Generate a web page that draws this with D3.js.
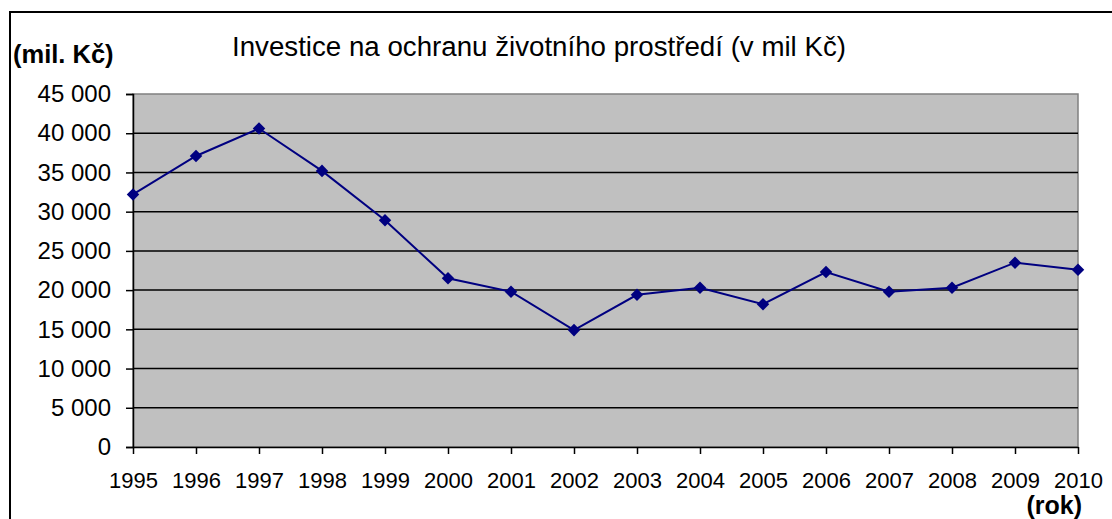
<!DOCTYPE html>
<html>
<head>
<meta charset="utf-8">
<script src="https://cdn.jsdelivr.net/npm/d3@7"></script>
<style>
  body { margin: 0; background: #fff; }
  svg text { font-family: "Liberation Sans", Arial, sans-serif; }
</style>
</head>
<body>
<div id="chart"></div>
<script>
const width = 1112;
const height = 519;

// data
const years = [1995, 1996, 1997, 1998, 1999, 2000, 2001, 2002, 2003, 2004, 2005, 2006, 2007, 2008, 2009, 2010];
const investice = [32200, 37100, 40600, 35200, 28900, 21500, 19800, 14900, 19400, 20300, 18200, 22300, 19800, 20300, 23500, 22600];
const yTicks = [0, 5000, 10000, 15000, 20000, 25000, 30000, 35000, 40000, 45000];

const title = "Investice na ochranu životního prostředí (v mil Kč)";
const yLabel = "(mil. Kč)";
const xLabel = "(rok)";

const margin = {top: 94, right: 34, bottom: 72, left: 133};

const svg = d3.select("#chart")
    .append("svg")
    .attr("width", width)
    .attr("height", height);

// outer chart frame
svg.append("rect")
    .attr("x", 10)
    .attr("y", 12)
    .attr("width", width + 20)
    .attr("height", height + 20)
    .attr("fill", "none")
    .attr("stroke", "#000")
    .attr("stroke-width", 2);

const x = d3.scalePoint()
    .domain(years)
    .range([margin.left, width - margin.right]);

const y = d3.scaleLinear()
    .domain([0, 45000])
    .range([height - margin.bottom, margin.top]);

// plot area
svg.append("rect")
    .attr("x", margin.left)
    .attr("y", margin.top)
    .attr("width", width - margin.right - margin.left)
    .attr("height", height - margin.bottom - margin.top)
    .attr("fill", "#c0c0c0")
    .attr("stroke", "#808080")
    .attr("stroke-width", 1.5);

// gridlines
svg.append("g")
    .selectAll("line")
    .data(yTicks.filter(d => d > 0 && d < 45000))
    .join("line")
    .attr("x1", margin.left)
    .attr("x2", width - margin.right)
    .attr("y1", d => y(d))
    .attr("y2", d => y(d))
    .attr("stroke", "#000")
    .attr("stroke-width", 1.5);

const fmt = d => d3.format(",")(d).replace(/,/g, " ");

// y axis
const yAxis = svg.append("g")
    .attr("transform", `translate(${margin.left},0)`)
    .call(d3.axisLeft(y).tickValues(yTicks).tickFormat(fmt).tickSize(7).tickPadding(15));
yAxis.select(".domain").attr("stroke-width", 1.5);
yAxis.selectAll(".tick line").attr("stroke-width", 1.5);
yAxis.selectAll("text")
    .attr("font-size", 24)
    .attr("fill", "#000");

// x axis
const xAxis = svg.append("g")
    .attr("transform", `translate(0,${height - margin.bottom})`)
    .call(d3.axisBottom(x).tickSize(7).tickPadding(18).tickSizeOuter(0));
xAxis.select(".domain").attr("stroke-width", 1.5);
xAxis.selectAll(".tick line").attr("stroke-width", 1.5);
xAxis.selectAll("text")
    .attr("font-size", 22)
    .attr("fill", "#000");

// line
const line = d3.line()
    .x((d, i) => x(years[i]))
    .y(d => y(d));

svg.append("path")
    .datum(investice)
    .attr("d", line)
    .attr("fill", "none")
    .attr("stroke", "#000080")
    .attr("stroke-width", 2);

// diamond markers
svg.append("g")
    .selectAll("path")
    .data(investice)
    .join("path")
    .attr("transform", (d, i) => `translate(${x(years[i])},${y(d)})`)
    .attr("d", d3.symbol().type(d3.symbolDiamond2).size(100))
    .attr("fill", "#000080");

// title and axis labels
svg.append("text")
    .attr("x", 539)
    .attr("y", 56)
    .attr("text-anchor", "middle")
    .attr("font-size", 27.7)
    .text(title);

svg.append("text")
    .attr("x", 13)
    .attr("y", 63)
    .attr("font-size", 25.5)
    .attr("font-weight", "bold")
    .text(yLabel);

svg.append("text")
    .attr("x", 1082)
    .attr("y", 514)
    .attr("text-anchor", "end")
    .attr("font-size", 25)
    .attr("font-weight", "bold")
    .text(xLabel);
</script>
</body>
</html>
